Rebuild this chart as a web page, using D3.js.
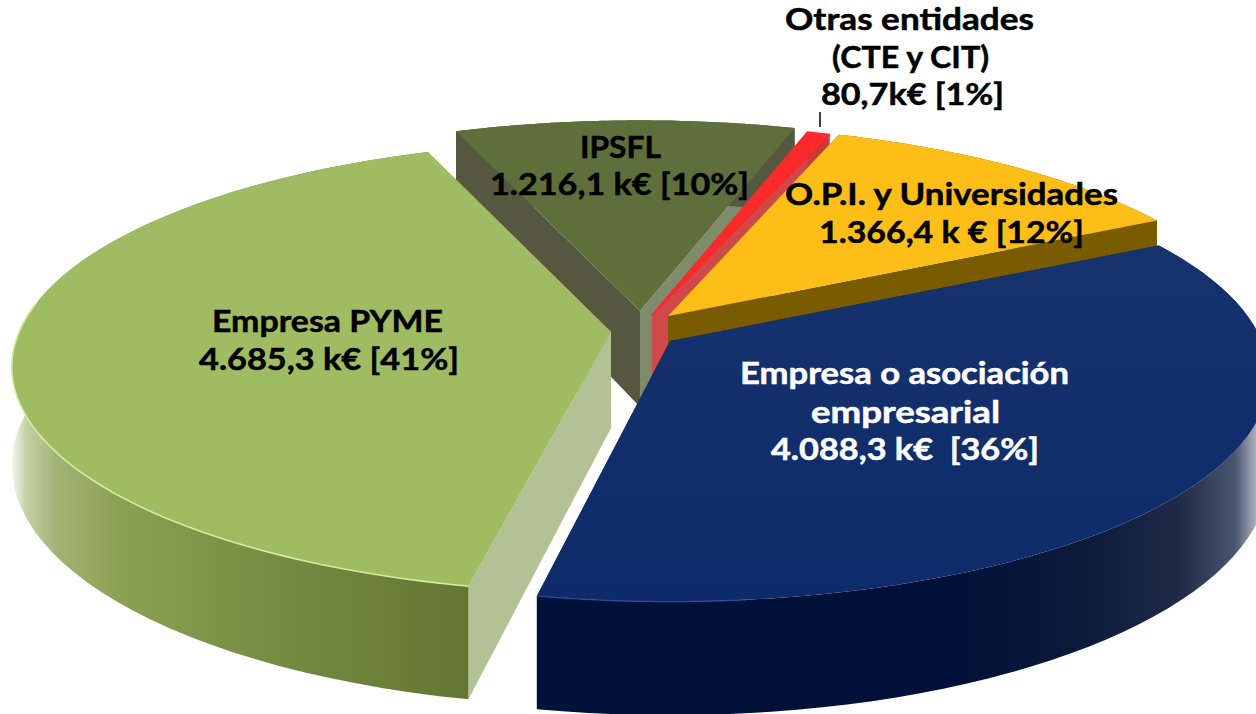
<!DOCTYPE html>
<html><head><meta charset="utf-8">
<script src="https://cdnjs.cloudflare.com/ajax/libs/d3/7.8.5/d3.min.js"></script>
<style>html,body{margin:0;padding:0;background:#fff;overflow:hidden}svg{display:block}</style>
</head><body><svg id="c" width="1256" height="714"></svg>
<script>
// data, clockwise from the blue slice
const categories = ["Empresa o asociación empresarial","Empresa PYME","IPSFL","Otras entidades (CTE y CIT)","O.P.I. y Universidades"];
const values = [4088.3, 4685.3, 1216.1, 80.7, 1366.4];
const labelLines = [
  ["Empresa o asociación","empresarial","4.088,3 k€  [36%]"],
  ["Empresa PYME","4.685,3 k€ [41%]"],
  ["IPSFL","1.216,1 k€ [10%]"],
  ["Otras entidades","(CTE y CIT)","80,7k€ [1%]"],
  ["O.P.I. y Universidades","1.366,4 k € [12%]"]
];
// style / layout
const topColors = ["url(#blueTop)","#a0bc62","#5e6f3c","#fb2a2a","#fdbf17"];
const sideA = ["#0a2560","#b2c295","#55583f","#d04848","#7a5c00"]; // cut wall at slice start
const sideB = ["#0a2560","#b2c295","#7f8c6c","#d04848","#7a5c00"]; // cut wall at slice end
const sliceShift = [[27,6],[-32,-3],[-3,-24],[9,-20],[25,-19]];
const sliceTurn = [0,0.8,0.7,0.8,0]; // degrees: small per-slice view correction
const labelBoxes = [
  [[740,1069,384],[811,1000,423],[771,1039,460]],
  [[212,443,332],[199,459,370]],
  [[580,661,158],[490,749,195]],
  [[785,1034,30],[832,989,68],[821,1004,105]],
  [[785,1118,205],[819,1084,243]]
];
const labelFill = ["#fff","#000","#000","#000","#000"];
const drawOrder = [2,3,4,0,1];
const cx=643, cy=335, R=592, tilt=0.372, persp=0.155, depth=96;
const startAngle = 62.3*Math.PI/180;

const svg = d3.select("#c");
const defs = svg.append("defs");
function grad(id, stops){
  const g = defs.append("linearGradient").attr("id",id).attr("gradientUnits","userSpaceOnUse")
    .attr("x1",0).attr("x2",1256).attr("y1",0).attr("y2",0);
  stops.forEach(s=>g.append("stop").attr("offset",s[0]/1256).attr("stop-color",s[1]));
}
grad("wall0",[[538,"#00123a"],[950,"#011038"],[1080,"#0c1a3a"],[1180,"#1f2a48"],[1235,"#4a5570"],[1256,"#aab0bc"]]);
grad("wall1",[[12,"#f4f6ec"],[26,"#c6d2a8"],[55,"#a3b477"],[120,"#8aa052"],[280,"#758b42"],[470,"#637632"]]);
const bt = defs.append("linearGradient").attr("id","blueTop").attr("gradientUnits","userSpaceOnUse")
  .attr("x1",0).attr("x2",0).attr("y1",240).attr("y2",600);
bt.append("stop").attr("offset",0).attr("stop-color","#17336e");
bt.append("stop").attr("offset",1).attr("stop-color","#0d2b6a");
const wallFill = ["url(#wall0)","url(#wall1)","#55583f","#c83a3a","#7a5c00"];

const slices = d3.pie().sort(null).startAngle(startAngle).endAngle(startAngle+2*Math.PI)(values);
const lineGen = d3.line().x(d=>d[0]).y(d=>d[1]);

function pt(a, r, off, down){
  const X = r*Math.sin(a), Y = -r*Math.cos(a);
  const w = 1 - persp*Y/R;
  return [cx+off[0]+X/w, cy+off[1]+tilt*Y/w+(down?depth/w:0)];
}
function arcPts(a0, a1, off, down){
  return d3.range(0,61).map(i=>pt(a0+(a1-a0)*i/60,R,off,down));
}

drawOrder.forEach(i=>{
  const turn = sliceTurn[i]*Math.PI/180;
  const a0 = slices[i].startAngle+turn, a1 = slices[i].endAngle+turn, off=sliceShift[i];
  const g = svg.append("g").attr("class","slice").attr("data-name",categories[i]);
  const apexT=pt(0,0,off,false), apexB=pt(0,0,off,true);
  const topA=arcPts(a0,a1,off,false), botA=arcPts(a0,a1,off,true);
  // cut walls
  g.append("path").attr("d",lineGen([apexT,topA[60],botA[60],apexB])+"Z").attr("fill",sideB[i]);
  g.append("path").attr("d",lineGen([apexT,topA[0],botA[0],apexB])+"Z").attr("fill",sideA[i]);
  // outer wall
  g.append("path").attr("d",lineGen(topA.concat(botA.slice().reverse()))+"Z").attr("fill",wallFill[i]);
  // top face
  const face = g.append("path").attr("d",lineGen([apexT].concat(topA))+"Z").attr("fill",topColors[i]);
  if(i===3) face.attr("stroke",topColors[i]).attr("stroke-width",1.5).attr("stroke-linejoin","round");
  // rim highlights
  if(i===1){
    g.append("path").attr("d",lineGen(arcPts(a0,a0+1.5,off,false))).attr("fill","none").attr("stroke","#d9ea9f").attr("stroke-width",1.6);
  }
  if(i===0){
    g.append("path").attr("d",lineGen(arcPts(a1-0.3,a1,off,false))).attr("fill","none").attr("stroke","#2c4f94").attr("stroke-width",1.2);
  }
});

// leader for the small slice
svg.append("line").attr("x1",820).attr("x2",820).attr("y1",112).attr("y2",127).attr("stroke","#000").attr("stroke-width",1.5);

// labels
labelLines.forEach((lines,i)=>{
  lines.forEach((t,j)=>{
    const b=labelBoxes[i][j];
    svg.append("text").text(t).attr("x",b[0]).attr("y",b[2])
      .attr("textLength",b[1]-b[0]).attr("lengthAdjust","spacingAndGlyphs")
      .style("white-space","pre")
      .attr("font-family","Lato, 'Open Sans', sans-serif").attr("font-weight",700).attr("font-size",30)
      .attr("fill",labelFill[i]).attr("stroke",labelFill[i]).attr("stroke-width",0.5);
  });
});
</script></body></html>
